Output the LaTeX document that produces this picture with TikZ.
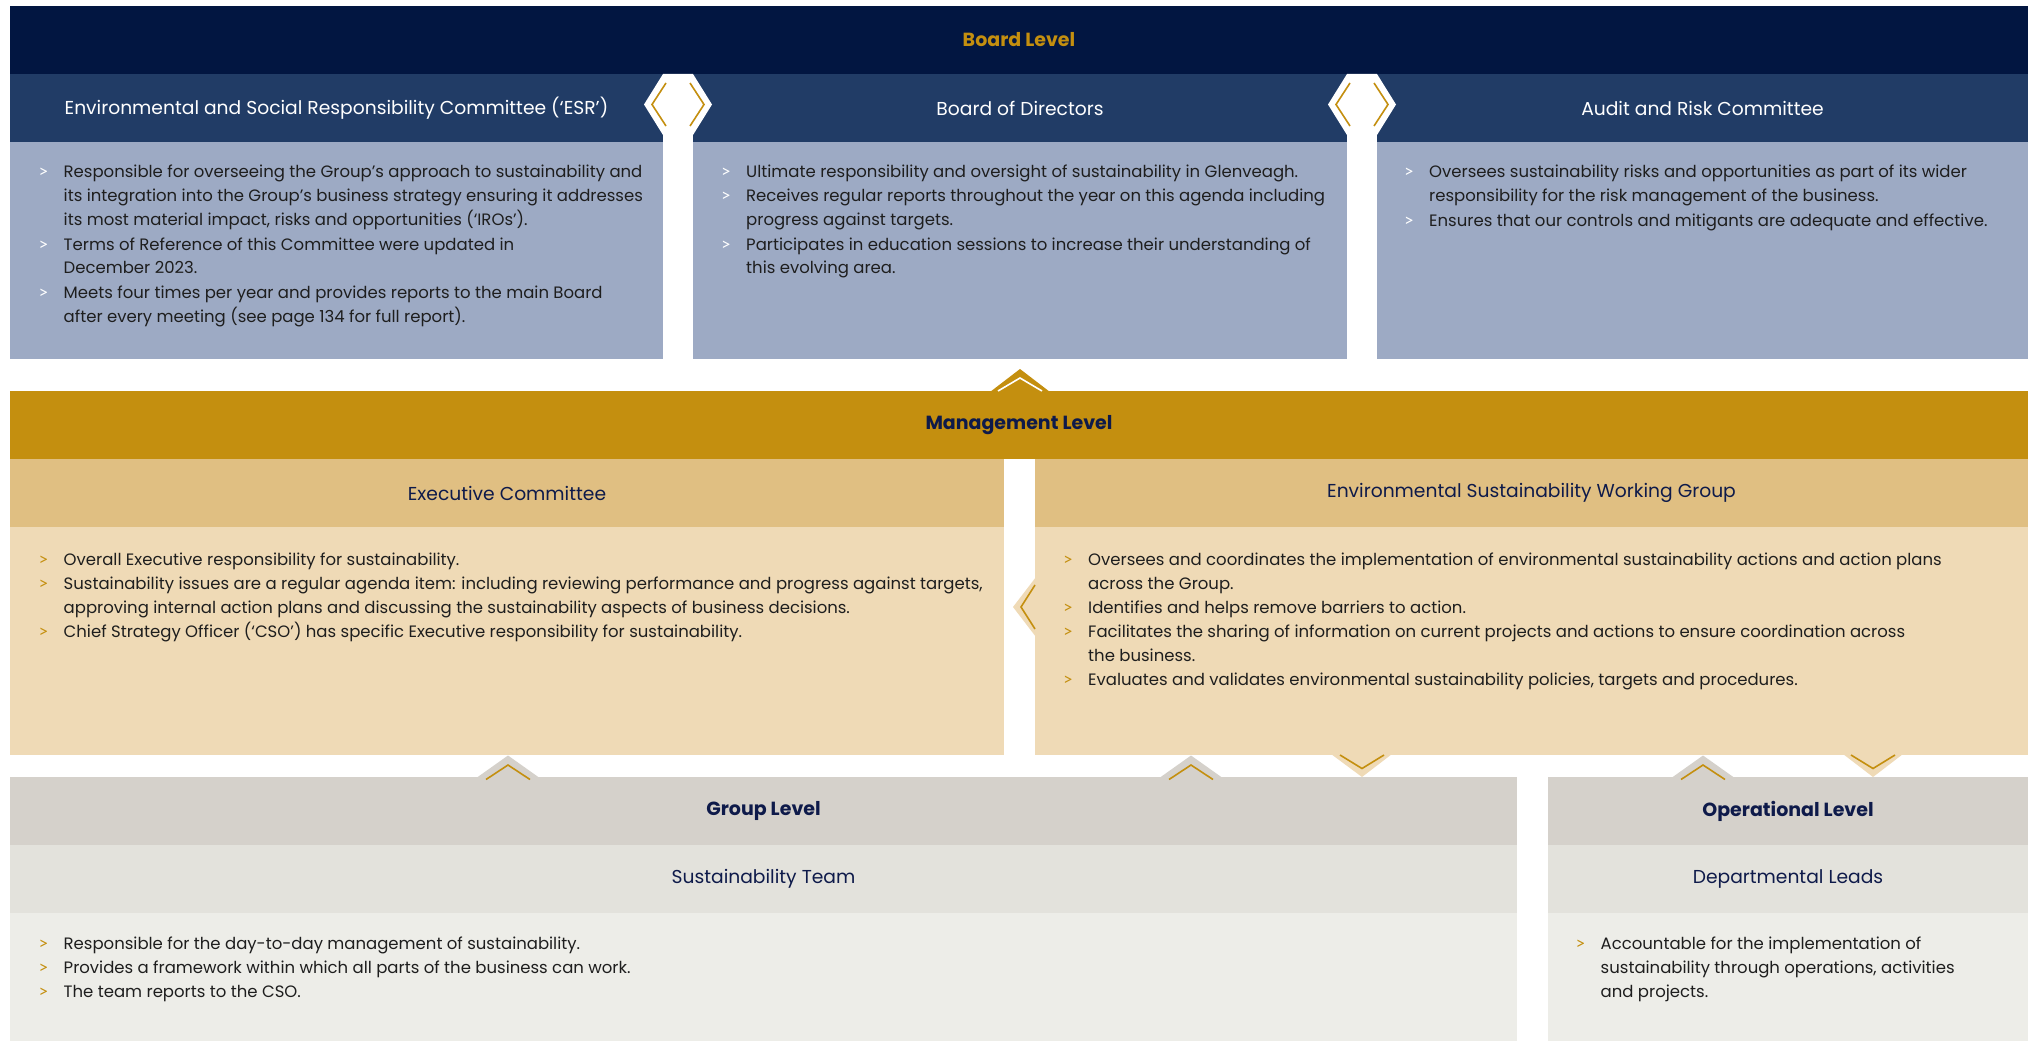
\documentclass[tikz,border=0pt]{standalone}
\usepackage{fontspec}
\setmainfont{Poppins}
\newfontfamily\bulfont{Lato}
\definecolor{navyA}{HTML}{021641}
\definecolor{boardH}{HTML}{213C66}
\definecolor{boardB}{HTML}{9DAAC4}
\definecolor{goldA}{HTML}{C48F0F}
\definecolor{mgH}{HTML}{E0BF82}
\definecolor{mgB}{HTML}{EFDAB6}
\definecolor{grH}{HTML}{D5D1CB}
\definecolor{grS}{HTML}{E3E2DC}
\definecolor{grB}{HTML}{EDEDE8}
\definecolor{navT}{HTML}{0E1A4A}
\definecolor{txtC}{HTML}{1E1E1E}
\newcommand\mybullet[6]{%
  \node[btext, text=#5] (#1) at (#2,#3) {\parbox[t]{1100pt}{\raggedright #6}};
  \node[bmark, text=#4] (#1m) at (#2-25,#3) {>};
}
\begin{document}
\begin{tikzpicture}[x=1pt,y=-1pt,
  box/.style={rectangle, inner sep=0pt, outer sep=0pt, anchor=north west, draw=none},
  lvl/.style={font=\fontsize{19}{22}\selectfont\bfseries},
  hdr/.style={font=\fontsize{18.7}{22}\selectfont},
  btext/.style={anchor=base west, inner sep=0pt, font=\fontsize{16.5}{24}\selectfont},
  bmark/.style={anchor=base west, inner sep=0pt, font=\bulfont\fontsize{17}{24}\selectfont},
  chev/.style={draw=goldA, line width=1.6pt},
  wchev/.style={draw=white, line width=1.6pt}]
\useasboundingbox (0,0) rectangle (2031,1043);
\fill[white] (0,0) rectangle (2031,1043);

% ---------- Board level ----------
\node[box, fill=navyA, minimum width=2018pt, minimum height=68pt, lvl, text=goldA] (board) at (10,6) {Board Level};
\node[box, fill=boardH, minimum width=653pt, minimum height=68pt, hdr, text=white] (esrh) at (10,74) {Environmental and Social Responsibility Committee (‘ESR’)};
\node[box, fill=boardH, minimum width=654pt, minimum height=68pt, hdr, text=white] (bodh) at (693,74) {Board of Directors};
\node[box, fill=boardH, minimum width=651pt, minimum height=68pt, hdr, text=white] (audh) at (1377,74) {Audit and Risk Committee};
\node[box, fill=boardB, minimum width=653pt, minimum height=217pt] (esrb) at (10,142) {};
\node[box, fill=boardB, minimum width=654pt, minimum height=217pt] (bodb) at (693,142) {};
\node[box, fill=boardB, minimum width=651pt, minimum height=217pt] (audb) at (1377,142) {};

% hexagon links
\fill[white] (663,74) -- (693,74) -- (712,104.5) -- (693,135) -- (663,135) -- (644,104.5) -- cycle;
\draw[chev] (666,83) -- (652,104.5) -- (666,126);
\draw[chev] (690,83) -- (704,104.5) -- (690,126);
\fill[white] (1347,74) -- (1377,74) -- (1396,104.5) -- (1377,135) -- (1347,135) -- (1328,104.5) -- cycle;
\draw[chev] (1350,83) -- (1336,104.5) -- (1350,126);
\draw[chev] (1374,83) -- (1388,104.5) -- (1374,126);

\mybullet{e1}{63.5}{178}{white}{txtC}{Responsible for overseeing the Group’s approach to sustainability and\\its integration into the Group’s business strategy ensuring it addresses\\its most material impact, risks and opportunities (‘IROs’).}
\mybullet{e2}{63.5}{250}{white}{txtC}{Terms of Reference of this Committee were updated in\\December 2023.}
\mybullet{e3}{63.5}{298}{white}{txtC}{Meets four times per year and provides reports to the main Board\\after every meeting (see page 134 for full report).}

\mybullet{b1}{746}{178}{white}{txtC}{Ultimate responsibility and oversight of sustainability in Glenveagh.}
\mybullet{b2}{746}{202}{white}{txtC}{Receives regular reports throughout the year on this agenda including\\progress against targets.}
\mybullet{b3}{746}{250}{white}{txtC}{Participates in education sessions to increase their understanding of\\this evolving area.}

\mybullet{a1}{1429}{178}{white}{txtC}{Oversees sustainability risks and opportunities as part of its wider\\responsibility for the risk management of the business.}
\mybullet{a2}{1429}{226}{white}{txtC}{Ensures that our controls and mitigants are adequate and effective.}

% ---------- Management level ----------
\fill[goldA] (990,392) -- (1020,369) -- (1050,392) -- cycle;
\node[box, fill=goldA, minimum width=2018pt, minimum height=68pt, lvl, text=navT] (mgmt) at (10,391) {Management Level};
\draw[wchev] (998,391) -- (1020,378) -- (1042,391);
\node[box, fill=mgH, minimum width=994pt, minimum height=68pt, hdr, text=navT] (exh) at (10,459) {Executive Committee};
\node[box, fill=mgH, minimum width=993pt, minimum height=68pt, hdr, text=navT] (esh) at (1035,459) {Environmental Sustainability Working Group};
\node[box, fill=mgB, minimum width=994pt, minimum height=228pt] (exb) at (10,527) {};
\node[box, fill=mgB, minimum width=993pt, minimum height=228pt] (esb) at (1035,527) {};

\fill[mgB] (1036,577) -- (1013,607) -- (1036,637) -- cycle;
\draw[chev] (1035,585) -- (1021,607) -- (1035,629);

\mybullet{x1}{63.5}{565}{goldA}{txtC}{Overall Executive responsibility for sustainability.}
\mybullet{x2}{63.5}{589}{goldA}{txtC}{Sustainability issues are a regular agenda item: including reviewing performance and progress against targets,\\approving internal action plans and discussing the sustainability aspects of business decisions.}
\mybullet{x3}{63.5}{637}{goldA}{txtC}{Chief Strategy Officer (‘CSO’) has specific Executive responsibility for sustainability.}

\mybullet{w1}{1088}{565}{goldA}{txtC}{Oversees and coordinates the implementation of environmental sustainability actions and action plans\\across the Group.}
\mybullet{w2}{1088}{613}{goldA}{txtC}{Identifies and helps remove barriers to action.}
\mybullet{w3}{1088}{637}{goldA}{txtC}{Facilitates the sharing of information on current projects and actions to ensure coordination across\\the business.}
\mybullet{w4}{1088}{685}{goldA}{txtC}{Evaluates and validates environmental sustainability policies, targets and procedures.}

% ---------- Group / Operational level ----------
\node[box, fill=grH, minimum width=1507pt, minimum height=68pt, lvl, text=navT] (grh) at (10,777) {Group Level};
\node[box, fill=grS, minimum width=1507pt, minimum height=68pt, hdr, text=navT] (grs) at (10,845) {Sustainability Team};
\node[box, fill=grB, minimum width=1507pt, minimum height=128pt] (grb) at (10,913) {};
\node[box, fill=grH, minimum width=480pt, minimum height=68pt, lvl, text=navT] (oph) at (1548,777) {Operational Level};
\node[box, fill=grS, minimum width=480pt, minimum height=68pt, hdr, text=navT] (ops) at (1548,845) {Departmental Leads};
\node[box, fill=grB, minimum width=480pt, minimum height=128pt] (opb) at (1548,913) {};

% down arrows from ESWG
\fill[mgB] (1331,754) -- (1362,777) -- (1392,754) -- cycle;
\draw[chev] (1340,755) -- (1362,768.5) -- (1384,755);
\fill[mgB] (1843,754) -- (1873,777) -- (1903,754) -- cycle;
\draw[chev] (1851,755) -- (1873,768.5) -- (1895,755);

% up arrows into management
\foreach \cx in {508,1191,1703}{
  \fill[grH] (\cx-31,777.5) -- (\cx,755.5) -- (\cx+31,777.5) -- cycle;
  \draw[chev] (\cx-22,779.5) -- (\cx,765) -- (\cx+22,779.5);
}

\mybullet{g1}{63.5}{949}{goldA}{txtC}{Responsible for the day-to-day management of sustainability.}
\mybullet{g2}{63.5}{973}{goldA}{txtC}{Provides a framework within which all parts of the business can work.}
\mybullet{g3}{63.5}{997}{goldA}{txtC}{The team reports to the CSO.}

\mybullet{o1}{1600.5}{949}{goldA}{txtC}{Accountable for the implementation of\\sustainability through operations, activities\\and projects.}
\end{tikzpicture}
\end{document}
